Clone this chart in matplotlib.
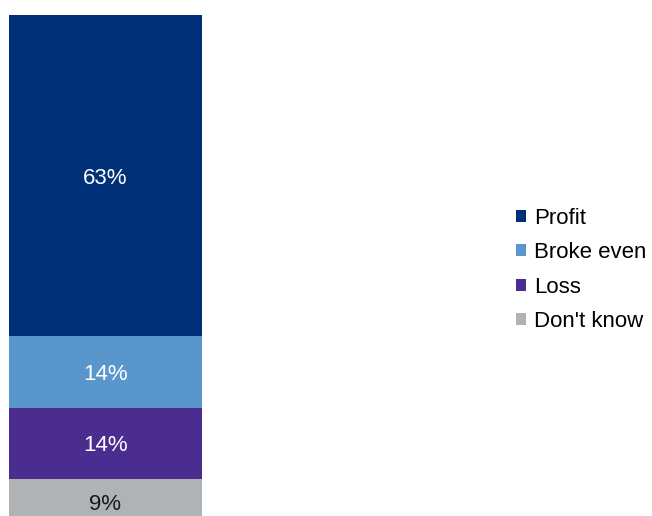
import matplotlib.pyplot as plt
from matplotlib.patches import Patch

plt.rcParams['font.family'] = ['Liberation Sans', 'DejaVu Sans']

# Outcome shares, listed top of the bar first
categories = ["Profit", "Broke even", "Loss", "Don't know"]
shares = [63, 14, 14, 9]
colors = ["#003078", "#5896CC", "#4B2C8F", "#B0B3B6"]
text_colors = ["white", "white", "white", "#1a1a1a"]

fig = plt.figure(figsize=(6.52, 5.16), dpi=100)
ax = fig.add_axes([9 / 652, -9 / 516, 193 / 652, 510 / 516])

# stack from the bottom up: Don't know, Loss, Broke even, Profit
bottom = 0
for cat, val, col, tc in zip(categories[::-1], shares[::-1], colors[::-1], text_colors[::-1]):
    ax.bar(0, val, bottom=bottom, width=1.0, color=col, edgecolor="none")
    ax.text(0, bottom + val / 2, f"{val}%", ha="center", va="center_baseline",
            color=tc, fontsize=16)
    bottom += val

ax.set_xlim(-0.5, 0.5)
ax.set_ylim(0, 100)
ax.axis("off")

handles = [Patch(facecolor=c, edgecolor="none") for c in colors]
fig.legend(handles, categories, loc="center left",
           bbox_to_anchor=(516 / 652, 1 - 270 / 516),
           frameon=False, fontsize=16, handlelength=0.45, handleheight=0.45,
           handletextpad=0.35, labelspacing=0.6, borderpad=0, borderaxespad=0)

fig.savefig("out.png", dpi=100)
